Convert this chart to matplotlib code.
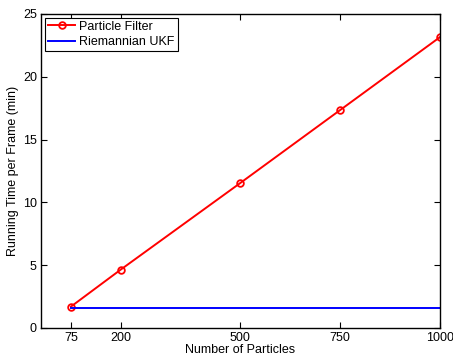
import matplotlib.pyplot as plt

# ---------------- data ---------------- #

particles = [75, 200, 500, 750, 1000]
pf_time = [1.70, 4.65, 11.55, 17.35, 23.15]
ukf_x = [75, 1000]
ukf_time = [1.62, 1.62]

xticks = [75, 200, 500, 750, 1000]
yticks = [0, 5, 10, 15, 20, 25]

# ---------------- plot ---------------- #

plt.rcParams['font.family'] = ['Liberation Sans', 'DejaVu Sans']

fig = plt.figure(figsize=(4.53, 3.58), dpi=100)
ax = fig.add_axes([0.0905, 0.0838, 0.8805, 0.8772])

ax.plot(particles, pf_time, color='red', linewidth=1.4, marker='o',
        markersize=4.8, markerfacecolor='none', markeredgewidth=1.3,
        label='Particle Filter')
ax.plot(ukf_x, ukf_time, color='blue', linewidth=1.4, label='Riemannian UKF')

ax.set_xlim(0, 1000)
ax.set_ylim(0, 25)
ax.set_xticks(xticks)
ax.set_yticks(yticks)
ax.tick_params(direction='in', top=True, right=True, labelsize=9,
               length=4, width=0.8, pad=3)
for s in ax.spines.values():
    s.set_linewidth(1.0)

ax.set_xlabel('Number of Particles', fontsize=9, labelpad=0)
ax.set_ylabel('Running Time per Frame (min)', fontsize=9, labelpad=3)

leg = ax.legend(loc='upper left', fontsize=9, fancybox=False, framealpha=1,
                edgecolor='black', borderaxespad=0.3, handlelength=2.2,
                handletextpad=0.3, borderpad=0.25, labelspacing=0.25)
leg.get_frame().set_linewidth(0.8)

fig.savefig('out.png', dpi=100)
